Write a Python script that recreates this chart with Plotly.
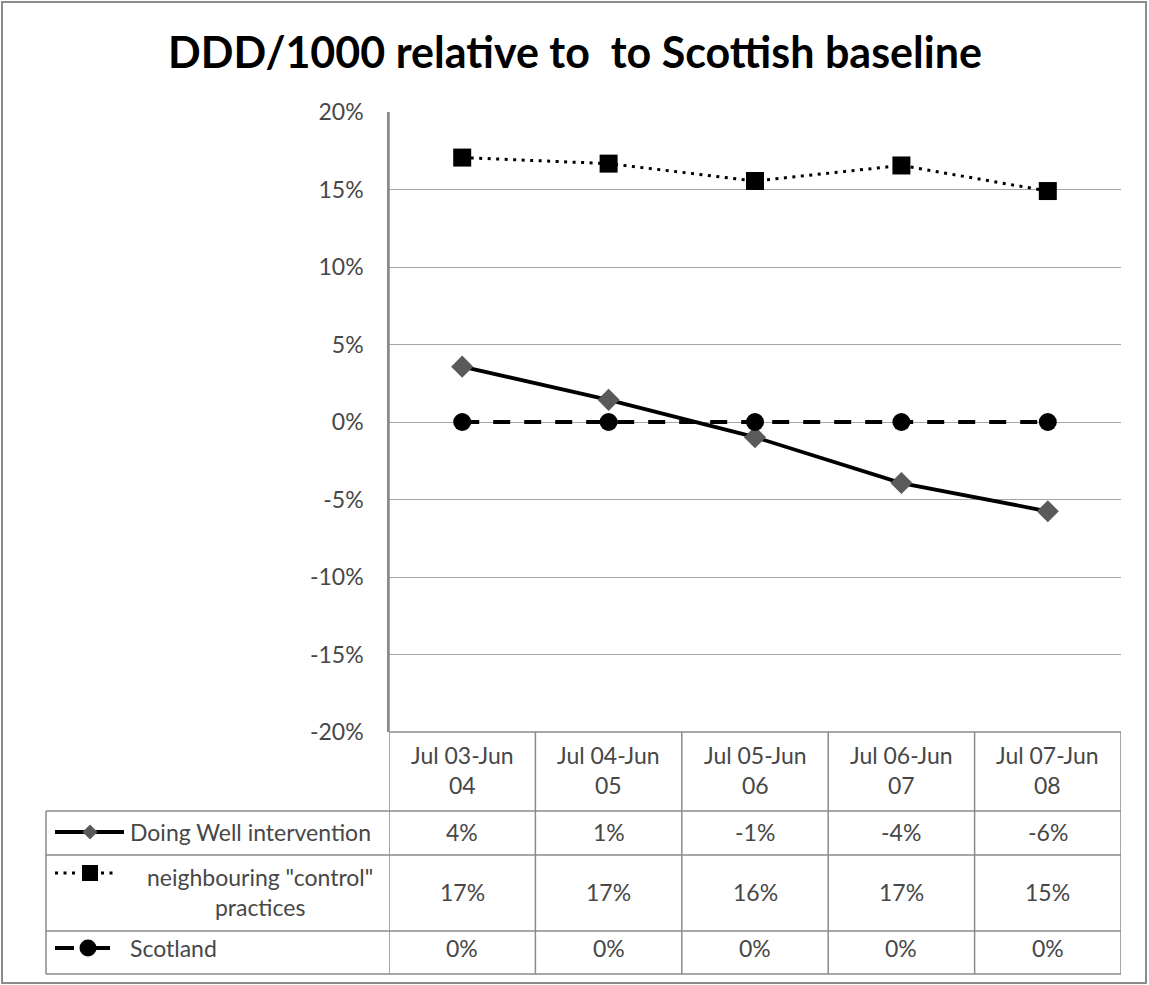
import plotly.graph_objects as go

W, H = 1149, 985

categories = ["Jul 03-Jun 04", "Jul 04-Jun 05", "Jul 05-Jun 06", "Jul 06-Jun 07", "Jul 07-Jun 08"]
header_labels = ["Jul 03-Jun<br>04", "Jul 04-Jun<br>05", "Jul 05-Jun<br>06", "Jul 06-Jun<br>07", "Jul 07-Jun<br>08"]
doing_well = [0.0357, 0.0143, -0.0098, -0.0394, -0.0576]
control = [0.1706, 0.1667, 0.1555, 0.1655, 0.1490]
scotland = [0.0, 0.0, 0.0, 0.0, 0.0]
series_names = ["Doing Well intervention", "neighbouring \"control\"<br>practices", "Scotland"]
y_ticks = [-0.20, -0.15, -0.10, -0.05, 0.0, 0.05, 0.10, 0.15, 0.20]
y_tick_labels = ["-20%", "-15%", "-10%", "-5%", "0%", "5%", "10%", "15%", "20%"]
title_text = "DDD/1000 relative to  to Scottish baseline"


def px(x):
    return x / W


def py(y):
    return 1 - y / H


FONT = "Lato, Calibri, 'Open Sans', sans-serif"
TXT = "#474747"
GRID = "#a6a6a6"
TLINE = "#8a8a8a"
DIAMOND = "#5a5a5a"

fig = go.Figure()

fig.add_trace(go.Scatter(
    x=categories, y=doing_well, mode="lines+markers",
    line=dict(color="black", width=3.8),
    marker=dict(symbol="diamond", size=17, color=DIAMOND),
    hoverinfo="skip", showlegend=False))
fig.add_trace(go.Scatter(
    x=categories, y=control, mode="lines+markers",
    line=dict(color="black", width=3, dash="3px,5.5px"),
    marker=dict(symbol="square", size=18, color="black"),
    hoverinfo="skip", showlegend=False))
fig.add_trace(go.Scatter(
    x=categories, y=scotland, mode="lines+markers",
    line=dict(color="black", width=4, dash="17px,14px"),
    marker=dict(symbol="circle", size=18, color="black"),
    hoverinfo="skip", showlegend=False))

x_dom = [px(389), px(1121)]
y_dom = [py(732), py(112)]

shapes = []
# outer border
shapes.append(dict(type="rect", xref="paper", yref="paper", x0=px(2), x1=px(1146), y0=py(983), y1=py(2),
                   line=dict(color="#8c8c8c", width=2)))
# table horizontal lines
for y, x0 in [(732, 389), (811, 46), (855, 46), (931, 46), (974, 46)]:
    shapes.append(dict(type="line", xref="paper", yref="paper", x0=px(x0), x1=px(1121), y0=py(y), y1=py(y),
                       line=dict(color=TLINE, width=1.5)))
# table vertical lines (column boundaries from the category axis)
for i in range(len(categories)):
    shapes.append(dict(type="line", xref="x", yref="paper", x0=i + 0.5, x1=i + 0.5, y0=py(974), y1=py(732),
                       line=dict(color=TLINE, width=1.5)))
shapes.append(dict(type="line", xref="x", yref="paper", x0=-0.5, x1=-0.5, y0=py(974), y1=py(112),
                   line=dict(color=TLINE, width=1.5)))
shapes.append(dict(type="line", xref="paper", yref="paper", x0=px(46), x1=px(46), y0=py(974), y1=py(811),
                   line=dict(color=TLINE, width=1.5)))


# legend key glyphs inside the table
def hline(x0, x1, y, width, dash="solid"):
    return dict(type="line", xref="paper", yref="paper", x0=px(x0), x1=px(x1), y0=py(y), y1=py(y),
                line=dict(color="black", width=width, dash=dash))


def diamond(cx, cy, r, color):
    pts = [(cx, cy - r), (cx + r, cy), (cx, cy + r), (cx - r, cy)]
    path = "M " + " L ".join(f"{px(a)},{py(b)}" for a, b in pts) + " Z"
    return dict(type="path", xref="paper", yref="paper", path=path, fillcolor=color, line=dict(width=0))


def square(cx, cy, r):
    return dict(type="rect", xref="paper", yref="paper", x0=px(cx - r), x1=px(cx + r), y0=py(cy + r),
                y1=py(cy - r), fillcolor="black", line=dict(width=0))


def circle(cx, cy, r):
    return dict(type="circle", xref="paper", yref="paper", x0=px(cx - r), x1=px(cx + r), y0=py(cy + r),
                y1=py(cy - r), fillcolor="black", line=dict(width=0))


shapes.append(hline(55, 124, 832, 4))
shapes.append(diamond(90, 832, 7.5, DIAMOND))
shapes.append(hline(55, 80, 873, 3, "3px,5.5px"))
shapes.append(hline(101, 118, 873, 3, "3px,5.5px"))
shapes.append(square(90, 873, 8))
shapes.append(hline(55, 74, 948, 4))
shapes.append(hline(96, 110, 948, 4))
shapes.append(circle(88, 948, 8.5))

annotations = []
annotations.append(dict(text="<b>" + title_text + "</b>", xref="paper", yref="paper", x=px(575), y=py(52),
                        showarrow=False, font=dict(family=FONT, size=43, color="black"),
                        xanchor="center", yanchor="middle"))
cell_font = dict(family=FONT, size=23, color=TXT)
for i, lab in enumerate(header_labels):
    annotations.append(dict(text=lab, xref="x", yref="paper", x=categories[i], y=py(770), showarrow=False,
                            font=cell_font, xanchor="center", yanchor="middle"))
row_y = [832, 892, 948]
for vals, yy in zip([doing_well, control, scotland], row_y):
    for i, v in enumerate(vals):
        annotations.append(dict(text=f"{round(v * 100)}%", xref="x", yref="paper", x=categories[i], y=py(yy),
                                showarrow=False, font=cell_font, xanchor="center", yanchor="middle"))
annotations.append(dict(text=series_names[0], xref="paper", yref="paper", x=px(128), y=py(832), showarrow=False,
                        font=cell_font, xanchor="left", yanchor="middle"))
annotations.append(dict(text=series_names[1], xref="paper", yref="paper", x=px(260), y=py(892), showarrow=False,
                        font=cell_font, xanchor="center", yanchor="middle", align="center"))
annotations.append(dict(text=series_names[2], xref="paper", yref="paper", x=px(128), y=py(948), showarrow=False,
                        font=cell_font, xanchor="left", yanchor="middle"))

fig.update_layout(
    width=W, height=H,
    autosize=False,
    margin=dict(l=0, r=0, t=0, b=0, pad=0),
    paper_bgcolor="white", plot_bgcolor="white",
    xaxis=dict(domain=x_dom, type="category", range=[-0.5, len(categories) - 0.5],
               showticklabels=False, showgrid=False, zeroline=False, showline=False, fixedrange=True,
               automargin=False),
    yaxis=dict(domain=y_dom, range=[-0.2, 0.2], tickvals=y_ticks, ticktext=y_tick_labels,
               showgrid=True, gridcolor=GRID, gridwidth=1.3, zeroline=False,
               showline=True, linecolor=TLINE, linewidth=1.5, mirror=False,
               ticks="", ticklabelstandoff=19, automargin=False,
               tickfont=dict(family=FONT, size=23, color=TXT), fixedrange=True),
    shapes=shapes,
    annotations=annotations,
    showlegend=False,
)

fig.write_html("out.html")
